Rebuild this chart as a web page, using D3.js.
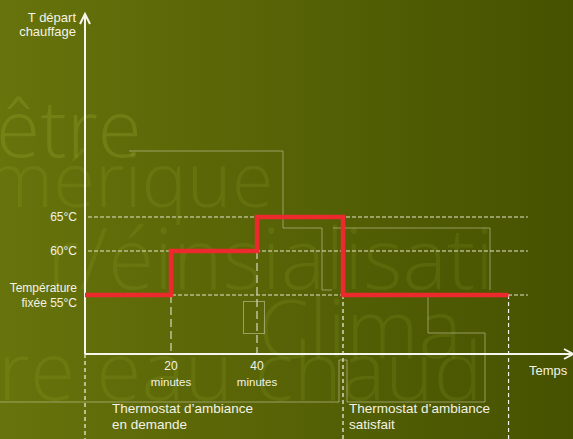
<!DOCTYPE html>
<html>
<head>
<meta charset="utf-8">
<script src="https://cdn.jsdelivr.net/npm/d3@7"></script>
<style>
  html, body { margin: 0; padding: 0; background: #566200; }
  svg { display: block; }
</style>
</head>
<body>
<div id="chart"></div>
<script>
const W = 573
const H = 439

// data
const minutes = [0, 20, 40, 60, 98.5]
const tempC = [55, 60, 65, 55, 55]
const levels = [55, 60, 65]
const levelLabels = { 65: ['65°C'], 60: ['60°C'], 55: ['Température', 'fixée 55°C'] }
const xTicks = [20, 40]
const stateSplits = [0, 60, 98.5]
const stateLabels = [['Thermostat d\u2019ambiance', 'en demande'], ['Thermostat d\u2019ambiance', 'satisfait']]

const svg = d3.select('#chart').append('svg')
  .attr('width', W)
  .attr('height', H)

// background
const defs = svg.append('defs')
const grad = defs.append('linearGradient').attr('id', 'bg').attr('x1', 0).attr('x2', 1).attr('y1', 0).attr('y2', 0)
grad.append('stop').attr('offset', 0).attr('stop-color', '#67730b')
grad.append('stop').attr('offset', 1).attr('stop-color', '#465200')
svg.append('rect').attr('width', W).attr('height', H).attr('fill', 'url(#bg)')

// faint decorative words behind
const words = [
  { t: 'être', x: -4, y: 157, s: 80, o: 0.2, a: 'start' },
  { t: 'mérique', x: -14, y: 207, s: 76, o: 0.13, a: 'start' },
  { t: 'r/éinsialisati', x: 494, y: 289, s: 84, o: 0.12, a: 'end' },
  { t: 'Clima', x: 258, y: 358, s: 82, o: 0.12, a: 'start' },
  { t: 're eau chaud', x: -2, y: 400, s: 82, o: 0.12, a: 'start' }
]
svg.append('g').selectAll('text').data(words).join('text')
  .attr('x', d => d.x).attr('y', d => d.y)
  .attr('text-anchor', d => d.a)
  .attr('font-family', '"Open Sans", "Noto Sans", sans-serif')
  .attr('font-weight', 300)
  .attr('font-size', d => d.s)
  .attr('fill', '#b0c440')
  .attr('fill-opacity', d => d.o)
  .text(d => d.t)

// thin decorative outline lines
const deco = svg.append('g').attr('fill', 'none').attr('stroke', '#c8c8a0').attr('stroke-opacity', 0.6).attr('stroke-width', 1)
deco.append('path').attr('d', 'M129,151H283V228H322V290H332')
deco.append('path').attr('d', 'M333,228H490V290')
deco.append('path').attr('d', 'M0,402H339V360H347V402H485V333H428V296')
deco.append('rect').attr('x', 243.5).attr('y', 301.5).attr('width', 21).attr('height', 32)

// scales
const x = d3.scaleLinear().domain([0, 100]).range([85, 515])
const y = d3.scaleLinear().domain([55, 60, 65]).range([295, 251, 217])
const axisY = 354

const textCol = '#f3f3e6'
const font = '"Liberation Sans", Arial, sans-serif'

// horizontal dashed guides
svg.append('g').selectAll('line').data(levels).join('line')
  .attr('x1', x(0) + 3).attr('x2', x(103))
  .attr('y1', d => y(d)).attr('y2', d => y(d))
  .attr('stroke', '#e6e6cc').attr('stroke-width', 1)
  .attr('stroke-dasharray', '4,2')

// vertical dashed at the step-ups
svg.append('g').selectAll('line').data(xTicks).join('line')
  .attr('x1', d => x(d)).attr('x2', d => x(d))
  .attr('y1', d => y(tempC[minutes.indexOf(d) - 1])).attr('y2', axisY)
  .attr('stroke', '#d8d8c0').attr('stroke-width', 1.2)
  .attr('stroke-dasharray', '8,4')

// dotted verticals bounding the thermostat states
svg.append('g').selectAll('line').data(stateSplits).join('line')
  .attr('x1', d => x(d)).attr('x2', d => x(d))
  .attr('y1', d => d === 0 ? axisY : y(55)).attr('y2', H)
  .attr('stroke', '#f4f4ea').attr('stroke-width', 1.2)
  .attr('stroke-dasharray', '4,3')

// axes with open arrows
const ax = svg.append('g').attr('stroke', '#f6f6ee').attr('stroke-width', 2).attr('fill', 'none')
ax.append('path').attr('d', `M${x(0)},${axisY}V14`)
ax.append('path').attr('d', `M${x(0) - 5},24L${x(0)},14L${x(0) + 5},24`)
ax.append('path').attr('d', `M${x(0)},${axisY}H572`)
ax.append('path').attr('d', `M564,${axisY - 5}L573,${axisY}L564,${axisY + 5}`)

// step line
const line = d3.line().x((d, i) => x(minutes[i])).y(d => y(d)).curve(d3.curveStepAfter)
svg.append('path')
  .attr('d', line(tempC))
  .attr('fill', 'none')
  .attr('stroke', '#ec2a2e')
  .attr('stroke-width', 4.5)

// y labels
const yl = svg.append('g').attr('font-family', font).attr('font-size', 12).attr('fill', textCol).attr('text-anchor', 'end')
levels.forEach(v => {
  const lab = levelLabels[v]
  const t = yl.append('text').attr('x', 77).attr('y', lab.length > 1 ? y(v) - 3 : y(v) + 4)
  lab.forEach((s, i) => t.append('tspan').attr('x', 77).attr('dy', i ? 15 : 0).text(s))
})
const tl = yl.append('text').attr('x', 76).attr('y', 22).attr('font-size', 13)
tl.append('tspan').attr('x', 76).text('T départ')
tl.append('tspan').attr('x', 76).attr('dy', 14).text('chauffage')

// x tick labels
const xl = svg.append('g').attr('font-family', font).attr('fill', textCol).attr('text-anchor', 'middle')
xTicks.forEach(v => {
  xl.append('text').attr('x', x(v)).attr('y', 370).attr('font-size', 12).text(v)
  xl.append('text').attr('x', x(v)).attr('y', 386).attr('font-size', 11.5).text('minutes')
})
svg.append('text').attr('x', 529).attr('y', 375).attr('font-family', font).attr('font-size', 13)
  .attr('fill', textCol).text('Temps')

// state labels under the axis
stateLabels.forEach((lab, i) => {
  const t = svg.append('text').attr('font-family', font).attr('font-size', 13.5).attr('fill', textCol)
    .attr('y', 413)
  const sx = i === 0 ? 112 : x(stateSplits[1]) + 6
  lab.forEach((s, j) => t.append('tspan').attr('x', sx).attr('dy', j ? 16 : 0).text(s))
})
</script>
</body>
</html>
